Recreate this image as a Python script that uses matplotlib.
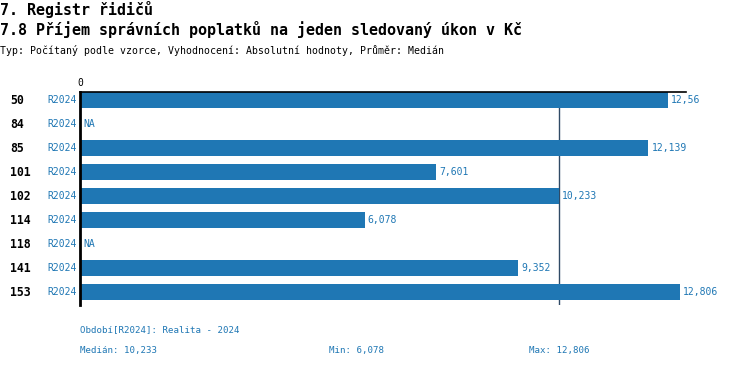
import matplotlib
matplotlib.use("Agg")
import matplotlib.pyplot as plt
from matplotlib.transforms import offset_copy, blended_transform_factory
import numpy as np

categories = ["50", "84", "85", "101", "102", "114", "118", "141", "153"]
period = ["R2024"] * 9
values = [12.56, None, 12.139, 7.601, 10.233, 6.078, None, 9.352, 12.806]
median_val = 10.233
min_val = 6.078
max_val = 12.806

title1 = "7. Registr řidičů"
title2 = "7.8 Příjem správních poplatků na jeden sledovaný úkon v Kč"
subtitle = "Typ: Počítaný podle vzorce, Vyhodnocení: Absolutní hodnoty, Průměr: Medián"
footer1 = "Období[R2024]: Realita - 2024"

BLUE = "#1f77b4"
MONO = "DejaVu Sans Mono"

def fmt(v):
    return f"{v:g}".replace(".", ",")

W, H = 750, 368
fig = plt.figure(figsize=(W / 100, H / 100), dpi=100)
ax = fig.add_axes([80 / W, (H - 305) / H, 606 / W, (305 - 92) / H])

y = np.arange(len(categories))
vals = [v if v is not None else 0 for v in values]
ax.barh(y, vals, height=16 / 24, color=BLUE, zorder=2)
ax.set_xlim(0, 12.94)
ax.set_ylim(8.54, -1 / 3)
ax.axvline(median_val, color="#2f4a66", lw=1, zorder=1)

for s in ["right", "bottom"]:
    ax.spines[s].set_visible(False)
ax.spines["left"].set_linewidth(2)
ax.spines["top"].set_linewidth(1.2)
ax.set_xticks([])
ax.set_yticks([])

ax.text(0, 1.0, "0", transform=offset_copy(ax.get_xaxis_transform(), fig=fig, x=0, y=4, units="dots"),
        ha="center", va="bottom", fontsize=7, family=MONO)

tr_lab = blended_transform_factory(fig.transFigure, ax.transData)
tr_val = offset_copy(ax.transData, fig=fig, x=3, y=0, units="dots")
for i, (c, p, v) in enumerate(zip(categories, period, values)):
    ax.text(10 / W, i, c, transform=tr_lab, ha="left", va="center", fontsize=8.3,
            fontweight="bold", family=MONO, color="black")
    ax.text(77 / W, i, p, transform=tr_lab, ha="right", va="center", fontsize=7,
            family=MONO, color=BLUE)
    label = fmt(v) if v is not None else "NA"
    xv = v if v is not None else 0
    ax.text(xv, i, label, transform=tr_val, ha="left", va="center", fontsize=7,
            family=MONO, color=BLUE, clip_on=False)

fig.text(0, 1 - 10 / H, title1, ha="left", va="center", fontsize=10.8, fontweight="bold", family=MONO)
fig.text(0, 1 - 30 / H, title2, ha="left", va="center", fontsize=10.8, fontweight="bold", family=MONO)
fig.text(0, 1 - 50 / H, subtitle, ha="left", va="center", fontsize=7.1, family=MONO)

fig.text(80 / W, 1 - 330 / H, footer1, ha="left", va="center", fontsize=6.6, family=MONO, color=BLUE)
fig.text(80 / W, 1 - 350 / H, "Medián: " + fmt(median_val), ha="left", va="center", fontsize=6.6, family=MONO, color=BLUE)
fig.text(329 / W, 1 - 350 / H, "Min: " + fmt(min_val), ha="left", va="center", fontsize=6.6, family=MONO, color=BLUE)
fig.text(529 / W, 1 - 350 / H, "Max: " + fmt(max_val), ha="left", va="center", fontsize=6.6, family=MONO, color=BLUE)

fig.savefig("out.png", dpi=100)
